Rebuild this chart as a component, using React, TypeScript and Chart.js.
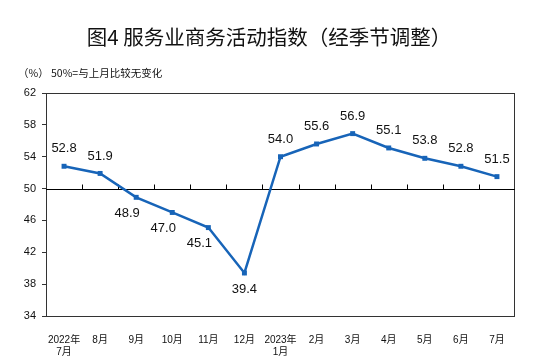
import React, { useEffect, useRef } from "react";
import { Chart, registerables } from "chart.js";

Chart.register(...registerables);

const TITLE = "图4 服务业商务活动指数（经季节调整）";
const SUBTITLE = "（%） 50%=与上月比较无变化";
const categories: (string | string[])[] = [
  ["2022年", "7月"], "8月", "9月", "10月", "11月", "12月",
  ["2023年", "1月"], "2月", "3月", "4月", "5月", "6月", "7月",
];
const values = [52.8, 51.9, 48.9, 47.0, 45.1, 39.4, 54.0, 55.6, 56.9, 55.1, 53.8, 52.8, 51.5];
const labelPlacement = ["top", "top", "bottomLeft", "bottomLeft", "bottomLeft", "bottom", "top", "top", "top", "top", "top", "top", "top"];
const yTicks = [34, 38, 42, 46, 50, 54, 58, 62];
const REF = 50;

const LINE_COLOR = "#1764b8";
const FONT = "'Liberation Sans', Arial, 'Noto Sans CJK SC', sans-serif";

const decorPlugin = {
  id: "decor",
  beforeDatasetsDraw(chart: any) {
    const { ctx, chartArea, scales } = chart;
    const x = scales.x;
    const y = scales.y;
    ctx.save();
    ctx.strokeStyle = "#333";
    ctx.lineWidth = 1;
    ctx.strokeRect(chartArea.left + 0.5, chartArea.top + 0.5, chartArea.right - chartArea.left - 1, chartArea.bottom - chartArea.top);
    const yr = Math.round(y.getPixelForValue(REF)) + 0.5;
    ctx.strokeStyle = "#000";
    ctx.beginPath();
    ctx.moveTo(chartArea.left, yr);
    ctx.lineTo(chartArea.right, yr);
    for (let i = 0; i < categories.length - 1; i++) {
      const bx = Math.round((x.getPixelForValue(i) + x.getPixelForValue(i + 1)) / 2) + 0.5;
      ctx.moveTo(bx, yr);
      ctx.lineTo(bx, yr - 5);
    }
    ctx.stroke();
    ctx.restore();
  },
  afterDatasetsDraw(chart: any) {
    const { ctx } = chart;
    const meta = chart.getDatasetMeta(0);
    ctx.save();
    ctx.font = `13px ${FONT}`;
    ctx.fillStyle = "#111";
    ctx.textAlign = "center";
    ctx.textBaseline = "middle";
    meta.data.forEach((pt: any, i: number) => {
      const p = labelPlacement[i];
      let dx = 0;
      let dy = -17.5;
      if (p === "bottom") dy = 16;
      if (p === "bottomLeft") { dy = 16; dx = -9; }
      ctx.fillText(values[i].toFixed(1), pt.x + dx, pt.y + dy);
    });
    ctx.restore();
  },
  afterDraw(chart: any) {
    const { ctx } = chart;
    ctx.save();
    ctx.fillStyle = "#111";
    ctx.textBaseline = "middle";
    ctx.textAlign = "center";
    ctx.font = `400 20.5px 'Noto Sans CJK SC', sans-serif`;
    ctx.fillText(TITLE, 269, 37);
    ctx.textAlign = "left";
    ctx.font = `10.5px 'Noto Sans CJK SC', sans-serif`;
    ctx.fillText(SUBTITLE, 18, 73);
    ctx.restore();
  },
};

export default function App() {
  const ref = useRef<HTMLCanvasElement>(null);
  useEffect(() => {
    if (!ref.current) return;
    const chart = new Chart(ref.current, {
      type: "line",
      data: {
        labels: categories,
        datasets: [
          {
            data: values,
            borderColor: LINE_COLOR,
            backgroundColor: LINE_COLOR,
            borderWidth: 2.5,
            pointStyle: "rect",
            pointRadius: 3.5,
            pointBorderWidth: 0,
            tension: 0,
          },
        ],
      },
      options: {
        animation: false,
        responsive: false,
        devicePixelRatio: 1,
        layout: { padding: { top: 93, right: 24, left: 0, bottom: 0 } },
        plugins: { legend: { display: false }, tooltip: { enabled: false }, title: { display: false } },
        scales: {
          x: {
            type: "category",
            offset: true,
            grid: { display: false },
            border: { display: false },
            ticks: {
              color: "#111",
              font: { size: 10, family: FONT },
              padding: 10,
              maxRotation: 0,
              autoSkip: false,
            },
            afterFit: (s: any) => { s.height = 44; },
          },
          y: {
            min: 34,
            max: 62,
            afterBuildTicks: (s: any) => { s.ticks = yTicks.map((v) => ({ value: v })); },
            grid: { drawOnChartArea: false, tickLength: 4, color: "#333" },
            border: { display: false },
            ticks: { color: "#111", font: { size: 11, family: FONT }, padding: 6 },
            afterFit: (s: any) => { s.width = 46; },
          },
        },
      },
      plugins: [decorPlugin],
    });
    return () => chart.destroy();
  }, []);
  return (
    <canvas
      ref={ref}
      width={539}
      height={360}
      style={{ position: "absolute", left: 0, top: 0, width: 539, height: 360, background: "#fff" }}
    />
  );
}
